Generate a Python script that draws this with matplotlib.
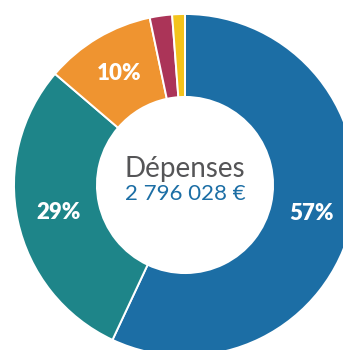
import matplotlib
matplotlib.use("Agg")
import matplotlib.pyplot as plt

# Dépenses breakdown (share in %)
shares = [56.8, 29.2, 10.4, 2.1, 1.2]
colors = ["#1c6ea5", "#1e8589", "#ef9430", "#ab3458", "#f3c31c"]
title = "Dépenses"
total = "2 796 028 €"

plt.rcParams['font.family'] = ['Lato', 'DejaVu Sans']

fig = plt.figure(figsize=(3.43, 3.5), dpi=100)
ax = fig.add_axes([0, 0, 1, 1])

# centre of the ring at (185, 185) px, outer radius 171 px
scale = 171.0
cx, cy = 185.0, 185.0

def pct_label(p):
    return f"{p:.0f}%" if p > 5 else ""

wedges, texts, autotexts = ax.pie(
    shares, colors=colors, startangle=90, counterclock=False,
    radius=1.0, autopct=pct_label, pctdistance=0.755,
    wedgeprops=dict(width=0.485, edgecolor="white", linewidth=1.4),
    textprops=dict(color="white", fontsize=16, fontweight="heavy"),
)

ax.text(0, (cy - 169) / scale, title, ha="center", va="center",
        fontsize=20, color="#555557")
ax.text(0, (cy - 194) / scale, total, ha="center", va="center",
        fontsize=16, color="#1c6ea5")

ax.set_xlim(-cx / scale, (343 - cx) / scale)
ax.set_ylim(-(350 - cy) / scale, cy / scale)
ax.set_aspect("equal")
ax.axis("off")

fig.savefig("out.png", dpi=100, facecolor="white")
